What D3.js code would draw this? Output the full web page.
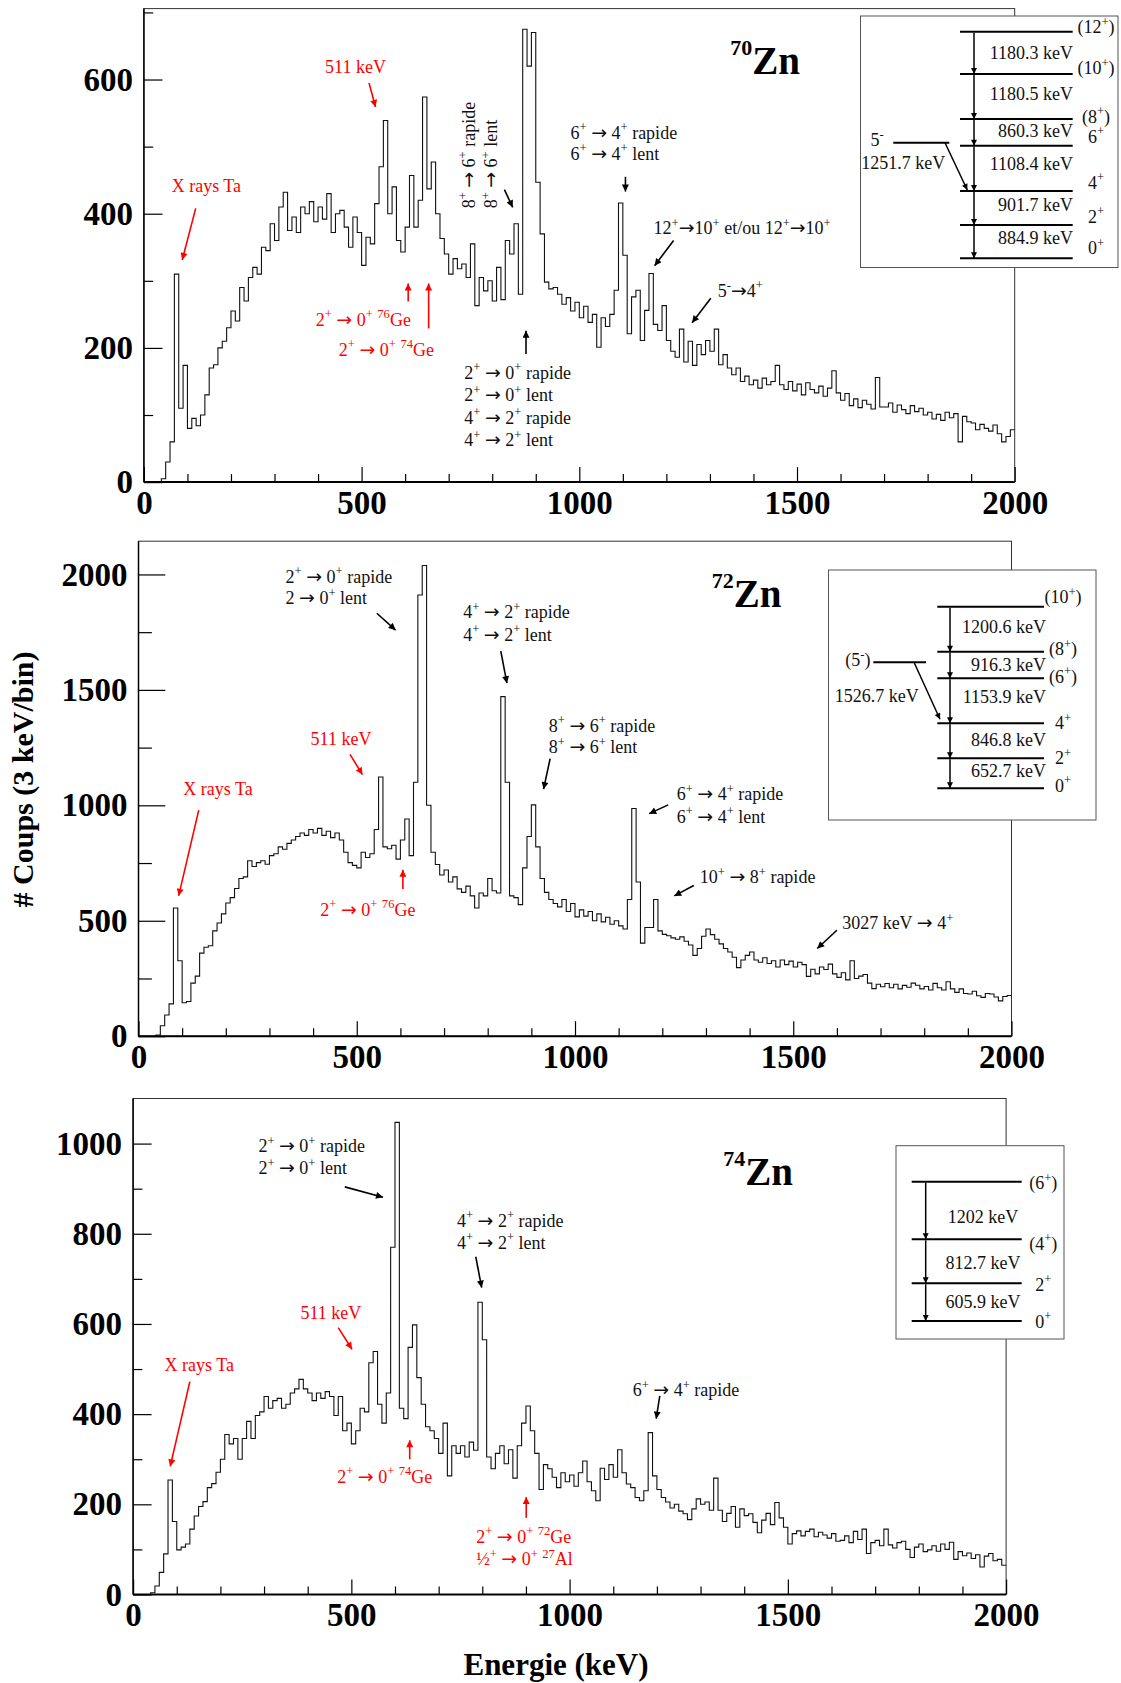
<!DOCTYPE html>
<html>
<head>
<meta charset="utf-8">
<script src="https://cdn.jsdelivr.net/npm/d3@7/dist/d3.min.js"></script>
<style>
  body { margin: 0; background: #fff; }
  svg { display: block; font-family: "Liberation Serif", "Times New Roman", serif; }
</style>
</head>
<body>
<svg id="chart" width="1121" height="1683"></svg>
<script>
// Gamma spectra, 10 keV per bin, 0 - 2000 keV.
const binWidth = 10;
const energyMax = 2000;
const energyTicks = [0, 500, 1000, 1500, 2000];

const zn70Counts = [
  0, 0, 0, 0, 5, 30, 60, 310, 110, 174,
  80, 95, 84, 100, 130, 170, 175, 200, 210, 230,
  255, 240, 290, 270, 305, 320, 310, 350, 345, 385,
  360, 410, 432, 375, 395, 372, 410, 400, 418, 388,
  410, 392, 430, 372, 400, 405, 380, 350, 395, 372,
  323, 365, 355, 415, 470, 539, 400, 440, 360, 343,
  380, 457, 380, 420, 574, 437, 477, 400, 363, 340,
  310, 333, 318, 325, 305, 355, 263, 305, 285, 300,
  270, 320, 272, 360, 340, 385, 280, 675, 620, 670,
  447, 370, 298, 288, 290, 280, 265, 275, 255, 268,
  245, 262, 238, 250, 201, 245, 232, 250, 286, 416,
  338, 221, 276, 286, 211, 256, 311, 235, 226, 263,
  211, 195, 186, 228, 179, 210, 174, 205, 190, 211,
  195, 228, 175, 190, 170, 160, 170, 150, 158, 145,
  152, 140, 155, 145, 150, 174, 145, 138, 150, 136,
  146, 130, 148, 138, 133, 143, 128, 140, 166, 133,
  122, 132, 114, 124, 111, 122, 116, 109, 156, 112,
  112, 118, 104, 115, 108, 102, 114, 105, 110, 100,
  104, 94, 101, 92, 104, 96, 102, 60, 98, 90,
  88, 78, 86, 80, 76, 85, 72, 60, 68, 78
];

const zn72Counts = [
  0, 0, 0, 0, 5, 45, 92, 140, 555, 327,
  145, 150, 230, 260, 360, 385, 392, 456, 490, 530,
  577, 600, 640, 683, 690, 760, 735, 752, 760, 745,
  782, 790, 820, 810, 835, 850, 865, 880, 870, 895,
  880, 900, 870, 888, 860, 880, 850, 797, 752, 740,
  729, 797, 774, 790, 895, 1123, 820, 812, 827, 767,
  850, 941, 782, 1100, 1911, 2039, 1000, 797, 744, 698,
  720, 668, 690, 638, 623, 650, 608, 555, 620, 608,
  683, 630, 620, 1471, 1100, 608, 600, 570, 729, 865,
  1002, 820, 683, 623, 592, 575, 560, 592, 540, 575,
  517, 547, 520, 540, 500, 530, 495, 515, 485, 500,
  478, 464, 592, 986, 668, 403, 471, 471, 592, 456,
  441, 435, 426, 420, 430, 411, 395, 350, 380, 433,
  464, 440, 420, 400, 380, 365, 342, 297, 330, 350,
  365, 330, 320, 340, 315, 327, 300, 330, 310, 325,
  300, 320, 310, 259, 290, 270, 300, 289, 312, 270,
  255, 275, 244, 327, 250, 260, 267, 230, 206, 225,
  214, 228, 210, 225, 205, 220, 212, 230, 221, 205,
  215, 200, 229, 210, 200, 236, 205, 190, 205, 185,
  183, 195, 175, 168, 185, 183, 170, 153, 172, 176
];

const zn74Counts = [
  0, 0, 0, 0, 4, 19, 49, 90, 254, 162,
  99, 105, 112, 145, 174, 195, 206, 237, 246, 271,
  300, 355, 334, 346, 300, 346, 384, 346, 397, 405,
  439, 413, 430, 435, 413, 422, 447, 456, 477, 456,
  447, 430, 447, 435, 450, 439, 397, 439, 363, 380,
  334, 363, 413, 405, 514, 539, 422, 380, 447, 770,
  1047, 413, 390, 548, 598, 481, 422, 372, 363, 346,
  313, 380, 263, 330, 313, 330, 305, 338, 320, 648,
  565, 305, 279, 313, 330, 290, 321, 258, 330, 380,
  418, 363, 313, 233, 288, 279, 260, 237, 270, 250,
  265, 240, 270, 296, 250, 230, 208, 280, 255, 288,
  260, 321, 270, 245, 237, 215, 208, 230, 359, 263,
  233, 215, 205, 192, 200, 185, 179, 166, 190, 212,
  200, 205, 187, 258, 187, 162, 180, 195, 149, 190,
  175, 179, 160, 137, 165, 180, 155, 204, 170, 149,
  112, 135, 141, 130, 140, 145, 128, 138, 132, 125,
  135, 118, 120, 130, 115, 140, 122, 145, 91, 115,
  120, 108, 145, 110, 103, 115, 118, 100, 82, 105,
  112, 95, 99, 108, 96, 112, 100, 116, 78, 95,
  86, 92, 80, 88, 61, 85, 91, 75, 78, 65
];

const zn70CountTicks = [0, 200, 400, 600];
const zn72CountTicks = [0, 500, 1000, 1500, 2000];
const zn74CountTicks = [0, 200, 400, 600, 800, 1000];

// Level schemes (labels only)
const zn70Spins = ["(12^{+})", "(10^{+})", "(8^{+})", "6^{+}", "4^{+}", "2^{+}", "0^{+}"];
const zn70Gammas = ["1180.3 keV", "1180.5 keV", "860.3 keV", "1108.4 keV", "901.7 keV", "884.9 keV"];
const zn72Spins = ["(10^{+})", "(8^{+})", "(6^{+})", "4^{+}", "2^{+}", "0^{+}"];
const zn72Gammas = ["1200.6 keV", "916.3 keV", "1153.9 keV", "846.8 keV", "652.7 keV"];
const zn74Spins = ["(6^{+})", "(4^{+})", "2^{+}", "0^{+}"];
const zn74Gammas = ["1202 keV", "812.7 keV", "605.9 keV"];

const red = "#ff0000";
const ink = "#111";

// Annotations, placed in (keV, counts) of their panel.
const zn70Notes = [
  { t: "511 keV", e: 486, c: 619, red: true, mid: true },
  { t: "X rays Ta", e: 143.5, c: 441.6, red: true, mid: true },
  { t: "2^{+} → 0^{+} ^{76}Ge", e: 504, c: 241.6, red: true, mid: true },
  { t: "2^{+} → 0^{+} ^{74}Ge", e: 557, c: 197, red: true, mid: true },
  { t: "8^{+} → 6^{+} rapide", e: 760.5, c: 408, rot: true },
  { t: "8^{+} → 6^{+} lent", e: 812, c: 408, rot: true },
  { t: "2^{+} → 0^{+} rapide", e: 736, c: 163.2 },
  { t: "2^{+} → 0^{+} lent", e: 736, c: 129.7 },
  { t: "4^{+} → 2^{+} rapide", e: 736, c: 96 },
  { t: "4^{+} → 2^{+} lent", e: 736, c: 62.4 },
  { t: "6^{+} → 4^{+} rapide", e: 980, c: 520.7 },
  { t: "6^{+} → 4^{+} lent", e: 980, c: 489 },
  { t: "12^{+}→10^{+} et/ou 12^{+}→10^{+}", e: 1170.6, c: 378.2 },
  { t: "5^{-}→4^{+}", e: 1318, c: 284.8 }
];
const zn70Arrows = [
  { e0: 517, c0: 595, e1: 532, c1: 559, red: true },
  { e0: 119, c0: 408, e1: 88, c1: 331, red: true },
  { e0: 607, c0: 269, e1: 607, c1: 296, red: true },
  { e0: 654, c0: 229, e1: 654, c1: 296, red: true },
  { e0: 828, c0: 436, e1: 847, c1: 409.5 },
  { e0: 877.6, c0: 191, e1: 877.6, c1: 225.6 },
  { e0: 1106, c0: 455, e1: 1106, c1: 433 },
  { e0: 1216.6, c0: 360, e1: 1173, c1: 322.5 },
  { e0: 1302, c0: 274, e1: 1259, c1: 237.6 }
];

const zn72Notes = [
  { t: "2^{+} → 0^{+} rapide", e: 337, c: 1991 },
  { t: "2 → 0^{+} lent", e: 337, c: 1896 },
  { t: "511 keV", e: 464, c: 1287, red: true, mid: true },
  { t: "X rays Ta", e: 182, c: 1070, red: true, mid: true },
  { t: "2^{+} → 0^{+} ^{76}Ge", e: 525.5, c: 547, red: true, mid: true },
  { t: "4^{+} → 2^{+} rapide", e: 744, c: 1837 },
  { t: "4^{+} → 2^{+} lent", e: 744, c: 1739 },
  { t: "8^{+} → 6^{+} rapide", e: 940, c: 1344 },
  { t: "8^{+} → 6^{+} lent", e: 940, c: 1251 },
  { t: "6^{+} → 4^{+} rapide", e: 1233, c: 1047 },
  { t: "6^{+} → 4^{+} lent", e: 1233, c: 951.5 },
  { t: "10^{+} → 8^{+} rapide", e: 1286, c: 688 },
  { t: "3027 keV → 4^{+}", e: 1612, c: 489 }
];
const zn72Arrows = [
  { e0: 546, c0: 1832, e1: 589, c1: 1759 },
  { e0: 484.5, c0: 1221, e1: 513, c1: 1133, red: true },
  { e0: 138, c0: 979, e1: 92, c1: 608, red: true },
  { e0: 605.7, c0: 638, e1: 605.7, c1: 721, red: true },
  { e0: 830, c0: 1668, e1: 844, c1: 1529 },
  { e0: 943, c0: 1202, e1: 928, c1: 1070 },
  { e0: 1213.5, c0: 1002, e1: 1170, c1: 964 },
  { e0: 1272, c0: 653, e1: 1227.5, c1: 607.6 },
  { e0: 1600, c0: 459, e1: 1555, c1: 380 }
];

const zn74Notes = [
  { t: "2^{+} → 0^{+} rapide", e: 287, c: 994 },
  { t: "2^{+} → 0^{+} lent", e: 287, c: 945 },
  { t: "511 keV", e: 453, c: 623.5, red: true, mid: true },
  { t: "X rays Ta", e: 151.4, c: 510, red: true, mid: true },
  { t: "2^{+} → 0^{+} ^{74}Ge", e: 576.6, c: 261, red: true, mid: true },
  { t: "4^{+} → 2^{+} rapide", e: 742, c: 829 },
  { t: "4^{+} → 2^{+} lent", e: 742, c: 780 },
  { t: "2^{+} → 0^{+} ^{72}Ge", e: 786, c: 128.4, red: true },
  { t: "½^{+} → 0^{+} ^{27}Al", e: 786, c: 78.3, red: true },
  { t: "6^{+} → 4^{+} rapide", e: 1144.6, c: 452.5 }
];
const zn74Arrows = [
  { e0: 485, c0: 904, e1: 572.5, c1: 881 },
  { e0: 470, c0: 592, e1: 501.5, c1: 544, red: true },
  { e0: 130, c0: 472, e1: 85, c1: 284, red: true },
  { e0: 633.7, c0: 300, e1: 633.7, c1: 342, red: true },
  { e0: 785, c0: 749, e1: 798.6, c1: 680.5 },
  { e0: 900.6, c0: 170, e1: 900.6, c1: 216, red: true },
  { e0: 1206.6, c0: 440.6, e1: 1198.4, c1: 390 }
];

const svg = d3.select("#chart");
const defs = svg.append("defs");

function addMarker(id, color, w, h) {
    defs.append("marker")
        .attr("id", id)
        .attr("viewBox", "0 0 10 10")
        .attr("refX", 10)
        .attr("refY", 5)
        .attr("markerUnits", "userSpaceOnUse")
        .attr("markerWidth", w)
        .attr("markerHeight", h)
        .attr("orient", "auto")
        .append("path")
        .attr("d", "M0,0L10,5L0,10z")
        .attr("fill", color);
}
addMarker("headBlack", "#000", 9, 7);
addMarker("headRed", red, 9, 7);
addMarker("headSmall", "#000", 7, 6);

function rich(textSel, str, size) {
    /*
    Writes 'str' into textSel, turning ^{...} into superscripts and
    drawing the transition arrow with a font that has a long one.
    */
    const parts = str.split(/(\^\{[^}]*\}|→)/);
    const lift = 0.42 * size;
    let cur = 0;
    parts.forEach(function(p) {
        if (!p) return;
        const m = p.match(/^\^\{(.*)\}$/);
        const target = m ? -lift : 0;
        const span = textSel.append("tspan")
            .attr("font-size", m ? size * 0.7 : size)
            .text(m ? m[1] : p);
        if (p === "→") {
            span.attr("font-family", "DejaVu Sans").attr("font-size", size * 1.05);
        }
        if (target !== cur) span.attr("dy", target - cur);
        cur = target;
    });
}

function drawScheme(s) {
    /*
    Draws a level-scheme inset. Positions are relative to the box.
    */
    const g = svg.append("g").attr("transform", "translate(" + s.box[0] + "," + s.box[1] + ")");
    g.append("rect")
        .attr("width", s.box[2]).attr("height", s.box[3])
        .attr("fill", "#fff").attr("stroke", "#555").attr("stroke-width", 1);

    s.levelY.forEach(function(ly) {
        g.append("line")
            .attr("x1", s.levelX[0]).attr("x2", s.levelX[1])
            .attr("y1", ly).attr("y2", ly)
            .attr("stroke", "#000").attr("stroke-width", 2);
    });

    for (let i = 0; i < s.levelY.length - 1; i++) {
        g.append("line")
            .attr("x1", s.arrowX).attr("x2", s.arrowX)
            .attr("y1", s.levelY[i] + 1).attr("y2", s.levelY[i + 1])
            .attr("stroke", "#000").attr("stroke-width", 1.5)
            .attr("marker-end", "url(#headSmall)");
    }

    s.spins.forEach(function(sp, i) {
        const t = g.append("text")
            .attr("x", s.spinX).attr("y", s.spinY[i] + 6)
            .attr("text-anchor", "middle").attr("fill", ink);
        rich(t, sp, 18);
    });

    s.gammas.forEach(function(gm, i) {
        g.append("text")
            .attr("x", s.gammaX).attr("y", s.gammaY[i] + 6)
            .attr("text-anchor", s.gammaAnchor)
            .attr("font-size", 18).attr("fill", ink)
            .text(gm);
    });

    if (s.side) {
        const d = s.side;
        g.append("line")
            .attr("x1", d.lineX[0]).attr("x2", d.lineX[1])
            .attr("y1", d.y).attr("y2", d.y)
            .attr("stroke", "#000").attr("stroke-width", 2);
        g.append("line")
            .attr("x1", d.from[0]).attr("y1", d.from[1])
            .attr("x2", d.to[0]).attr("y2", d.to[1])
            .attr("stroke", "#000").attr("stroke-width", 1.5)
            .attr("marker-end", "url(#headSmall)");
        const t = g.append("text")
            .attr("x", d.spinPos[0]).attr("y", d.spinPos[1] + 6)
            .attr("text-anchor", "middle").attr("fill", ink);
        rich(t, d.spin, 18);
        g.append("text")
            .attr("x", d.gammaPos[0]).attr("y", d.gammaPos[1] + 6)
            .attr("text-anchor", "middle")
            .attr("font-size", 18).attr("fill", ink)
            .text(d.gamma);
    }
}

function drawPanel(p) {
    const x = d3.scaleLinear().domain([0, energyMax]).range([p.box.l, p.box.r]);
    const y = d3.scaleLinear().domain([0, p.ymax]).range([p.box.b, p.box.t]);
    const g = svg.append("g");

    // Frame (top and right are thin).
    g.append("rect")
        .attr("x", p.box.l).attr("y", p.box.t)
        .attr("width", p.box.r - p.box.l).attr("height", p.box.b - p.box.t)
        .attr("fill", "none").attr("stroke", "#333").attr("stroke-width", 1);

    // Histogram as steps.
    const pts = p.counts.map(function(c, i) { return [i * binWidth, c]; });
    pts.push([energyMax, p.counts[p.counts.length - 1]]);
    g.append("path")
        .datum(pts)
        .attr("d", d3.line()
            .x(function(d) { return x(d[0]); })
            .y(function(d) { return y(d[1]); })
            .curve(d3.curveStepAfter))
        .attr("fill", "none")
        .attr("stroke", "#111")
        .attr("stroke-width", 1.1);

    // X ticks: minor every 100 keV, labelled every 500 keV.
    const xMinor = d3.range(0, energyMax + 1, 100).filter(function(v) { return v % 500 !== 0; });
    g.append("g")
        .attr("transform", "translate(0," + p.box.b + ")")
        .call(d3.axisBottom(x).tickValues(xMinor).tickSize(-8).tickSizeOuter(0).tickFormat(""));
    g.append("g")
        .attr("transform", "translate(0," + p.box.b + ")")
        .call(d3.axisBottom(x).tickValues(energyTicks).tickSize(-15).tickSizeOuter(0)
            .tickPadding(8).tickFormat(d3.format("d")));

    // Y ticks.
    const yMinor = d3.range(0, p.ymax, p.minorStep).filter(function(v) { return p.countTicks.indexOf(v) < 0; });
    g.append("g")
        .attr("transform", "translate(" + p.box.l + ",0)")
        .call(d3.axisLeft(y).tickValues(yMinor).tickSize(-p.yTick / 2).tickSizeOuter(0).tickFormat(""));
    g.append("g")
        .attr("transform", "translate(" + p.box.l + ",0)")
        .call(d3.axisLeft(y).tickValues(p.countTicks).tickSize(-p.yTick).tickSizeOuter(0)
            .tickPadding(11).tickFormat(d3.format("d")));

    g.selectAll(".domain").remove();
    g.selectAll(".tick line").attr("stroke", "#000").attr("stroke-width", 1.2);
    g.selectAll(".tick text")
        .attr("font-family", "Liberation Serif, Times New Roman, serif")
        .attr("font-size", 33)
        .attr("font-weight", "bold")
        .attr("fill", "#000");

    // Axis lines.
    g.append("line")
        .attr("x1", p.box.l).attr("x2", p.box.r)
        .attr("y1", p.box.b).attr("y2", p.box.b)
        .attr("stroke", "#000").attr("stroke-width", 2);
    g.append("line")
        .attr("x1", p.box.l).attr("x2", p.box.l)
        .attr("y1", p.box.t).attr("y2", p.box.b)
        .attr("stroke", "#000").attr("stroke-width", 1.5);

    // Arrows.
    p.arrows.forEach(function(a) {
        g.append("line")
            .attr("x1", x(a.e0)).attr("y1", y(a.c0))
            .attr("x2", x(a.e1)).attr("y2", y(a.c1))
            .attr("stroke", a.red ? red : "#000")
            .attr("stroke-width", 1.6)
            .attr("marker-end", a.red ? "url(#headRed)" : "url(#headBlack)");
    });

    // Notes.
    p.notes.forEach(function(n) {
        const t = g.append("text").attr("fill", n.red ? red : ink);
        if (n.rot) {
            t.attr("transform", "translate(" + x(n.e) + "," + y(n.c) + ") rotate(-90)");
        } else {
            t.attr("x", x(n.e)).attr("y", y(n.c) + 6)
                .attr("text-anchor", n.mid ? "middle" : "start");
        }
        rich(t, n.t, 18);
    });

    // Level scheme inset.
    drawScheme(p.scheme);

    // Nucleus name.
    const title = g.append("text")
        .attr("x", x(p.title.e)).attr("y", y(p.title.c))
        .attr("font-weight", "bold").attr("fill", "#000");
    title.append("tspan").attr("font-size", 22).attr("dy", -19).text(p.title.mass);
    title.append("tspan").attr("font-size", 39).attr("dy", 19).text("Zn");
}

const panels = [
    {
        counts: zn70Counts, countTicks: zn70CountTicks, minorStep: 100, ymax: 705.7,
        box: { l: 143.9, r: 1014.7, t: 8.6, b: 482.1 }, yTick: 18.6,
        notes: zn70Notes, arrows: zn70Arrows,
        title: { mass: "70", e: 1346.5, c: 608.2 },
        scheme: {
            box: [860.5, 16, 257.5, 251.5],
            levelX: [99.5, 212.2], levelY: [15.7, 58, 103, 129.7, 175, 209, 242.3],
            arrowX: 113.5,
            spins: zn70Spins, spinX: 235.5, spinY: [11.3, 52.3, 100.7, 120.7, 166.7, 200.7, 232.3],
            gammas: zn70Gammas, gammaX: 212.5, gammaAnchor: "end",
            gammaY: [37.3, 78, 114.7, 148, 189, 222.3],
            side: {
                spin: "5^{-}", gamma: "1251.7 keV", lineX: [32.8, 88.8], y: 126.7,
                spinPos: [16.5, 124], gammaPos: [42.8, 146.7],
                from: [84.5, 126.7], to: [106.8, 174]
            }
        }
    },
    {
        counts: zn72Counts, countTicks: zn72CountTicks, minorStep: 250, ymax: 2144,
        box: { l: 138.5, r: 1011.5, t: 541.2, b: 1036.2 }, yTick: 26.8,
        notes: zn72Notes, arrows: zn72Arrows,
        title: { mass: "72", e: 1313.4, c: 1858.8 },
        scheme: {
            box: [828.5, 570, 267.5, 250],
            levelX: [108.8, 215.5], levelY: [36.7, 81.7, 108.3, 153.3, 188.3, 218.3],
            arrowX: 121.5,
            spins: zn72Spins, spinX: 234.5, spinY: [27.3, 79.3, 106.7, 153.3, 188.3, 216],
            gammas: zn72Gammas, gammaX: 217.5, gammaAnchor: "end",
            gammaY: [56.7, 95, 126.7, 170, 200.7],
            side: {
                spin: "(5^{-})", gamma: "1526.7 keV", lineX: [44.8, 97.5], y: 92.3,
                spinPos: [29.3, 90], gammaPos: [48.2, 126],
                from: [85.5, 92.3], to: [111.5, 149.3]
            }
        }
    },
    {
        counts: zn74Counts, countTicks: zn74CountTicks, minorStep: 100, ymax: 1100,
        box: { l: 133.1, r: 1006.1, t: 1098.5, b: 1594.5 }, yTick: 18.5,
        notes: zn74Notes, arrows: zn74Arrows,
        title: { mass: "74", e: 1352, c: 909 },
        scheme: {
            box: [896, 1145.7, 168, 193.3],
            levelX: [15.7, 125.7], levelY: [36, 93.6, 137.6, 175.3],
            arrowX: 29.7,
            spins: zn74Spins, spinX: 147.3, spinY: [37.6, 98.3, 139.3, 176],
            gammas: zn74Gammas, gammaX: 87, gammaAnchor: "middle",
            gammaY: [71, 117, 156],
            side: null
        }
    }
];

panels.forEach(drawPanel);

// Shared axis titles.
svg.append("text")
    .attr("transform", "translate(32.5,779.5) rotate(-90)")
    .attr("text-anchor", "middle")
    .attr("font-size", 30)
    .attr("font-weight", "bold")
    .attr("fill", "#000")
    .text("# Coups (3 keV/bin)");

svg.append("text")
    .attr("x", 556).attr("y", 1675)
    .attr("text-anchor", "middle")
    .attr("font-size", 31)
    .attr("font-weight", "bold")
    .attr("fill", "#000")
    .text("Energie (keV)");
</script>
</body>
</html>
